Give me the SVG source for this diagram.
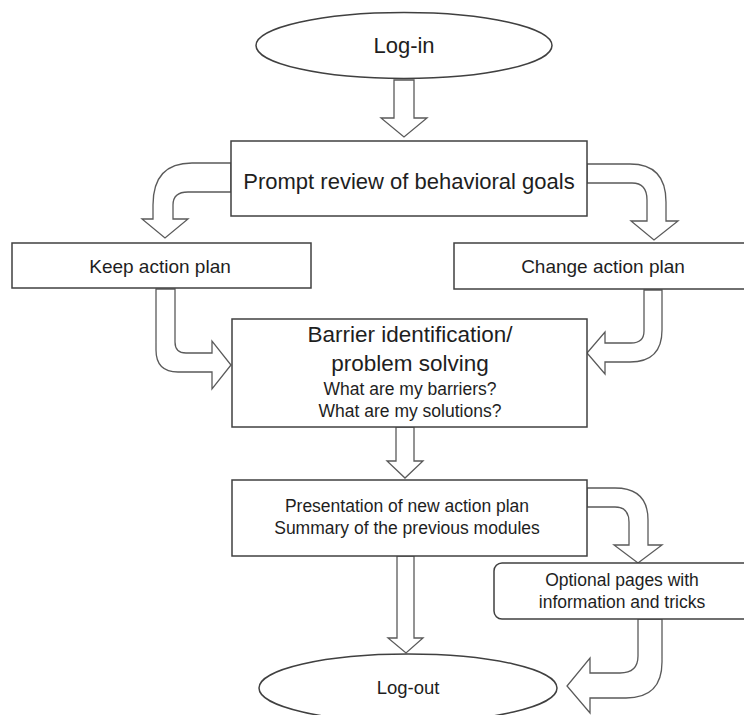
<svg xmlns="http://www.w3.org/2000/svg" width="744" height="715" viewBox="0 0 744 715">
<style>
.node{fill:#ffffff;stroke:#404040;stroke-width:1.5}
.arr{fill:#ffffff;stroke:#5a5a5a;stroke-width:1.3;stroke-linejoin:miter}
text{font-family:"Liberation Sans",Arial,sans-serif;fill:#1e1e1e;text-anchor:middle}
.big{font-size:22px}
.bar{font-size:22.5px}
.mid{font-size:19px}
.sm{font-size:17.5px}
.lo{font-size:18.5px}
</style>
<rect width="744" height="715" fill="#ffffff"/>
<g id="connectors">
<path class="arr" d="M394,80 L414,80 L414,118 L427,118 L404,137 L381,118 L394,118 Z"/>
<path class="arr" d="M231,163 L192,163 Q153,163 153,205 L153,219 L142,219 L165,238 L188,219 L173,219 L173,205 Q173,192 188,192 L231,192 Z"/>
<path class="arr" d="M587,164 L630,164 Q666,164 666,202 L666,221 L678,221 L654,240 L631,221 L647,221 L647,200 Q647,183 632,183 L587,183 Z"/>
<path class="arr" d="M156,289 L156,350 Q156,372 178,372 L212,372 L212,389 L231,365 L212,341 L212,353 L186,353 Q175,353 175,342 L175,289 Z"/>
<path class="arr" d="M644,290 L644,331 Q644,343 631,343 L605,343 L605,332 L587,353 L605,374 L605,362 L630,362 Q662,362 662,330 L662,290 Z"/>
<path class="arr" d="M396,427 L414,427 L414,461 L423,461 L405,478 L387,461 L396,461 Z"/>
<path class="arr" d="M587,488 L615,488 Q648,488 648,520 L648,545 L662,545 L638,563 L614,545 L629,545 L629,522 Q629,507 615,507 L587,507 Z"/>
<path class="arr" d="M397,556 L414,556 L414,638 L423,638 L406,653 L388,638 L397,638 Z"/>
<path class="arr" d="M638,619 L638,656 Q638,673 620,673 L590,673 L590,658 L567,686 L590,713 L590,698 L626,698 Q662,698 662,662 L662,619 Z"/>
</g>
<g id="login">
<ellipse class="node" cx="404" cy="45.5" rx="148" ry="33"/>
<text class="big" x="404" y="53">Log-in</text>
</g>
<g id="prompt">
<rect class="node" x="231" y="141" width="356" height="75"/>
<text class="big" x="409" y="189">Prompt review of behavioral goals</text>
</g>
<g id="keep">
<rect class="node" x="12" y="243" width="299" height="45"/>
<text class="mid" x="160" y="273">Keep action plan</text>
</g>
<g id="change">
<rect class="node" x="454" y="243" width="300" height="46"/>
<text class="mid" x="603" y="273">Change action plan</text>
</g>
<g id="barrier">
<rect class="node" x="232" y="319" width="355" height="108"/>
<text class="bar" x="410" y="342">Barrier identification/</text>
<text class="bar" x="410" y="371">problem solving</text>
<text class="sm" x="410" y="395">What are my barriers?</text>
<text class="sm" x="410" y="417">What are my solutions?</text>
</g>
<g id="presentation">
<rect class="node" x="232" y="480" width="355" height="76"/>
<text class="sm" x="407" y="512">Presentation of new action plan</text>
<text class="sm" x="407" y="534">Summary of the previous modules</text>
</g>
<g id="optional">
<rect class="node" x="494" y="563" width="260" height="56" rx="8" ry="8"/>
<text class="sm" x="622" y="586">Optional pages with</text>
<text class="sm" x="622" y="608">information and tricks</text>
</g>
<g id="logout">
<ellipse class="node" cx="408" cy="688" rx="149" ry="34"/>
<text class="lo" x="408" y="694">Log-out</text>
</g>
</svg>
